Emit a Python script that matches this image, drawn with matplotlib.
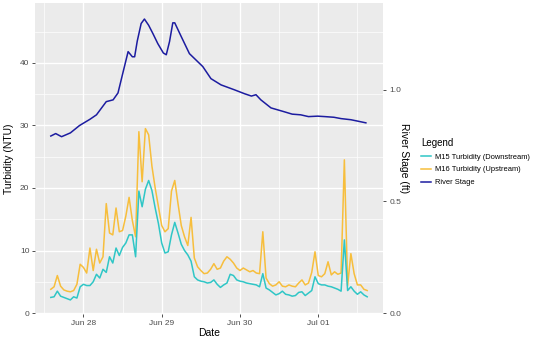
import pandas as pd
import numpy as np
import matplotlib.pyplot as plt
import matplotlib.dates as mdates
from matplotlib.lines import Line2D

plt.rcParams['font.family'] = ['Liberation Sans', 'DejaVu Sans']

# turbidity, hourly from Jun 27 14:00
start = pd.Timestamp('2021-06-27 14:00')
m16_up = [3.8, 4.2, 6.0, 4.3, 3.7, 3.5, 3.4, 3.6, 4.6, 7.8,
          7.3, 6.4, 10.4, 6.8, 10.2, 8.0, 9.0, 17.5, 12.8, 12.5,
          16.8, 13.0, 13.2, 15.5, 18.5, 14.8, 12.2, 29.0, 21.0, 29.5,
          28.5, 23.5, 20.0, 17.0, 14.0, 13.0, 13.5, 19.5, 21.2, 17.5,
          14.0, 12.2, 10.8, 15.3, 8.8, 7.4, 6.8, 6.3, 6.4, 7.0,
          7.9, 7.0, 7.2, 8.3, 9.0, 8.6, 8.0, 7.2, 6.8, 7.2,
          6.9, 6.6, 6.8, 6.4, 6.3, 13.0, 5.6, 4.7, 4.3, 4.5,
          5.0, 4.3, 4.2, 4.5, 4.3, 4.2, 4.8, 5.3, 4.5, 4.8,
          6.5, 9.8, 6.0, 5.8, 6.3, 8.2, 6.1, 6.6, 6.2, 6.4,
          24.5, 4.4, 9.5, 6.3, 4.5, 4.5, 3.8, 3.6]
m15_down = [2.5, 2.6, 3.5, 2.7, 2.5, 2.3, 2.1, 2.6, 2.4, 4.2,
            4.6, 4.4, 4.4, 5.0, 6.2, 5.6, 7.0, 6.5, 9.0, 8.0,
            10.4, 9.2, 10.5, 11.2, 12.5, 12.5, 9.0, 19.5, 17.0, 19.8,
            21.2, 19.6, 16.8, 14.3, 11.2, 9.6, 9.8, 12.5, 14.5, 12.8,
            11.0, 10.0, 9.3, 8.3, 5.8, 5.3, 5.1, 5.0, 4.8, 4.9,
            5.3, 4.6, 4.1, 4.5, 4.8, 6.2, 6.0, 5.3, 5.1, 5.0,
            4.8, 4.7, 4.6, 4.5, 4.2, 6.3, 4.0, 3.7, 3.3, 2.9,
            3.1, 3.5, 3.0, 2.9, 2.7, 2.8, 3.3, 3.4, 2.8, 3.2,
            3.6, 5.8, 4.7, 4.5, 4.5, 4.3, 4.2, 4.0, 3.8, 3.5,
            11.7, 3.6, 4.2, 3.5, 3.0, 3.4, 2.9, 2.6]

# river stage (ft), hours after Jun 28 00:00
stage_hours = [-10, -8.5, -6.7, -4, -1.2, 2, 4, 7, 9.1, 10.6,
               12.1, 13.7, 15, 15.7, 16.5, 17.7, 18.7, 20, 21.3, 22.8,
               24.5, 25.4, 26.4, 27.4, 28, 30, 32.5, 36.6, 39.1, 42.2,
               46.3, 49.3, 51.5, 52.9, 54.4, 57.5, 61.5, 64, 66.6, 69,
               71.8, 74, 76.8, 79, 82, 84, 86.6]
stage_ft = [0.793, 0.804, 0.790, 0.807, 0.840, 0.868, 0.888, 0.947, 0.955, 0.986,
            1.076, 1.171, 1.148, 1.148, 1.218, 1.297, 1.317, 1.289, 1.252, 1.207,
            1.165, 1.157, 1.216, 1.300, 1.300, 1.238, 1.162, 1.104, 1.050, 1.022,
            1.000, 0.983, 0.972, 0.978, 0.955, 0.919, 0.902, 0.891, 0.888, 0.880,
            0.882, 0.880, 0.877, 0.871, 0.866, 0.860, 0.852]

scale = 35.7  # NTU per ft on the secondary axis

t_turb = pd.date_range(start, periods=len(m16_up), freq='h')
t_stage = pd.Timestamp('2021-06-28') + pd.to_timedelta(stage_hours, unit='h')
stage_plot = np.array(stage_ft) * scale

c_down = '#2FC6C6'
c_up = '#F7BE3C'
c_stage = '#1C1CA0'

fig = plt.figure(figsize=(5.35, 3.4), dpi=100)
ax = fig.add_axes([0.0654, 0.0765, 0.6505, 0.915])
ax.set_facecolor('#EBEBEB')
for s in ax.spines.values():
    s.set_visible(False)

ax.plot(t_turb, m16_up, color=c_up, lw=1.1)
ax.plot(t_turb, m15_down, color=c_down, lw=1.1)
ax.plot(t_stage, stage_plot, color=c_stage, lw=1.1)

ax.set_xlim(pd.Timestamp('2021-06-28') - pd.Timedelta(hours=14.85),
            pd.Timestamp('2021-06-28') + pd.Timedelta(hours=91.85))
ax.set_ylim(-0.15, 49.6)
ax.set_yticks([0, 10, 20, 30, 40])
ax.set_yticks([5, 15, 25, 35, 45], minor=True)
ax.xaxis.set_major_locator(mdates.DayLocator())
ax.xaxis.set_major_formatter(mdates.DateFormatter('%b %d'))
ax.xaxis.set_minor_locator(mdates.HourLocator(byhour=[12]))
ax.grid(which='major', color='white', lw=1.0)
ax.grid(which='minor', color='white', lw=0.5)
ax.set_axisbelow(True)
ax.tick_params(which='major', length=2.5, width=0.6, color='#333333',
               labelsize=6, labelcolor='#4D4D4D', pad=1.5)
ax.tick_params(which='minor', length=0)
ax.set_xlabel('Date', fontsize=7.5, labelpad=1)
ax.set_ylabel('Turbidity (NTU)', fontsize=7.5, labelpad=4)

sec = ax.secondary_yaxis('right', functions=(lambda y: y / scale, lambda f: f * scale))
sec.set_yticks([0.0, 0.5, 1.0])
sec.set_yticklabels(['0.0', '0.5', '1.0'])
sec.spines['right'].set_visible(False)
sec.tick_params(length=2.5, width=0.6, color='#333333', labelsize=6,
                labelcolor='#4D4D4D', pad=2)
sec.set_ylabel('River Stage (ft)', fontsize=7.5, rotation=270, labelpad=6)

handles = [Line2D([], [], color=c_down, lw=1.1),
           Line2D([], [], color=c_up, lw=1.1),
           Line2D([], [], color=c_stage, lw=1.1)]
labels = ['M15 Turbidity (Downstream)', 'M16 Turbidity (Upstream)', 'River Stage']
leg = fig.legend(handles, labels, title='Legend', loc='upper left',
                 bbox_to_anchor=(0.774, 0.615), frameon=False, fontsize=5.4,
                 title_fontsize=7, handlelength=1.3, handletextpad=0.6,
                 labelspacing=0.75, alignment='left')

fig.savefig('out.png', dpi=100)
